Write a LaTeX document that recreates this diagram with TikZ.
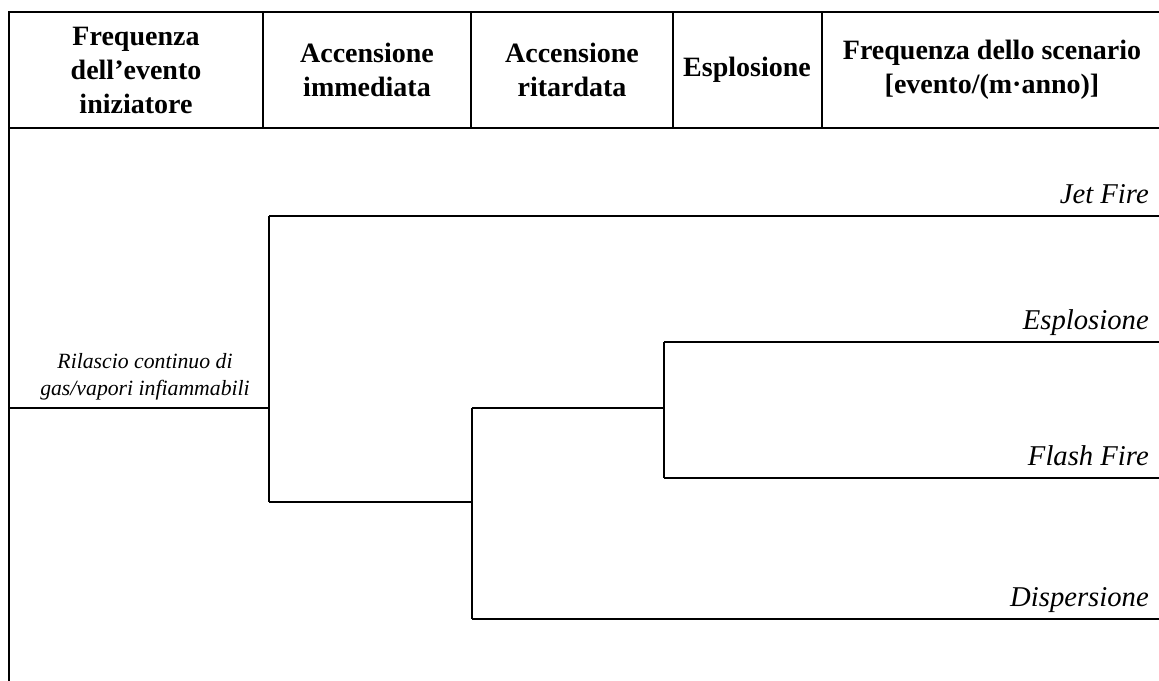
\documentclass[tikz,border=0pt]{standalone}
\usepackage{fontspec}
\setmainfont{Liberation Serif}
\usepackage{xcolor}

\tikzset{
  frameline/.style={line width=2.2},
  treeline/.style={line width=1.5},
  headtext/.style={align=center,font=\fontsize{21}{25.5}\selectfont\bfseries,inner sep=0.75pt},
  outcome/.style={anchor=base east,font=\fontsize{21.5}{25}\selectfont\itshape,inner sep=0.75pt},
}

\begin{document}
\begin{tikzpicture}[x=0.75pt,y=0.75pt,yscale=-1,xscale=1]
\useasboundingbox (0,0) rectangle (1159,681);

%Frame coordinates
\coordinate (tl) at (9,12);
\coordinate (tr) at (1159,12);
\coordinate (hl) at (9,128);
\coordinate (hr) at (1159,128);
\coordinate (bl) at (9,681);

%Header lines
\draw [frameline] (tr) -- (tl) -- (bl) ;
\draw [frameline] (hl) -- (hr) ;
\draw [frameline] (263,12) -- (263,128) ;
\draw [frameline] (471,12) -- (471,128) ;
\draw [frameline] (673,12) -- (673,128) ;
\draw [frameline] (822,12) -- (822,128) ;

% Text Node
\node (hFreq) [headtext] at (136,70) {Frequenza\\dell’evento\\iniziatore};
% Text Node
\node (hImm) [headtext] at (367,70) {Accensione\\immediata};
% Text Node
\node (hRit) [headtext] at (572,70) {Accensione\\ritardata};
% Text Node
\node (hEsp) [headtext] at (747,70) {Esplosione};
% Text Node
\node (hScen) [headtext] at (992,70) {Frequenza dello scenario\\{}[evento/(m·anno)]};

%Tree coordinates
\coordinate (root) at (9,408);
\coordinate (imm) at (269,408);
\coordinate (immY) at (269,216);
\coordinate (immN) at (269,502);
\coordinate (rit) at (472,502);
\coordinate (ritY) at (472,408);
\coordinate (ritN) at (472,619);
\coordinate (esp) at (664,408);
\coordinate (espY) at (664,342);
\coordinate (espN) at (664,478);
\coordinate (endJet) at (1159,216);
\coordinate (endEsp) at (1159,342);
\coordinate (endFla) at (1159,478);
\coordinate (endDis) at (1159,619);

%Straight Lines
\draw [treeline] (root) -- (imm) ;
\draw [treeline] (immY) -- (immN) ;
\draw [treeline] (immY) -- (endJet) ;
\draw [treeline] (immN) -- (rit) ;
\draw [treeline] (ritY) -- (ritN) ;
\draw [treeline] (ritY) -- (esp) ;
\draw [treeline] (espY) -- (espN) ;
\draw [treeline] (espY) -- (endEsp) ;
\draw [treeline] (espN) -- (endFla) ;
\draw [treeline] (ritN) -- (endDis) ;

% Text Node
\node (rel) [anchor=south,align=center,inner sep=0.75pt,font=\fontsize{16.3}{20}\selectfont\itshape] at (145,401) {Rilascio continuo di\\gas/vapori infiammabili};
% Text Node
\node (jet) [outcome] at (1150,203) {Jet Fire};
% Text Node
\node (expl) [outcome] at (1150,329) {Esplosione};
% Text Node
\node (flash) [outcome] at (1150,465) {Flash Fire};
% Text Node
\node (disp) [outcome] at (1150,606) {Dispersione};

\end{tikzpicture}
\end{document}
